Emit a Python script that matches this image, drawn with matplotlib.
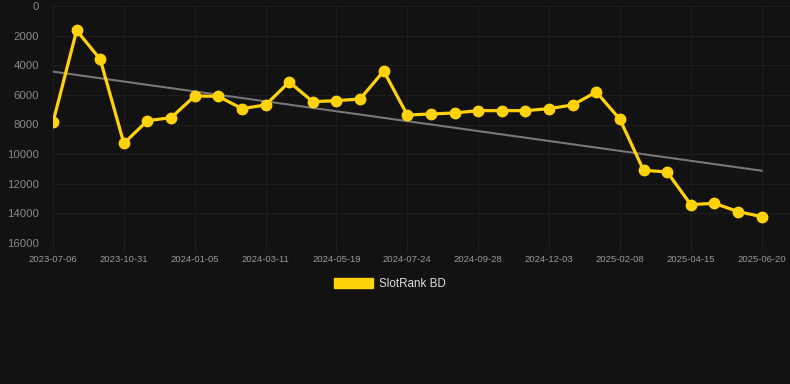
import numpy as np
import matplotlib
matplotlib.use('Agg')
import matplotlib.pyplot as plt
from matplotlib.patches import Patch

plt.rcParams['font.family'] = ['Liberation Sans', 'DejaVu Sans']

# data: rank per snapshot (lower is better, axis inverted)
ranks = [7850, 1650, 3600, 9270, 7740, 7540, 6075, 6100, 6930, 6680,
         5130, 6460, 6390, 6280, 4390, 7360, 7290, 7220, 7065, 7065,
         7065, 6930, 6680, 5805, 7650, 11090, 11205, 13410, 13320, 13880,
         14220]
tick_labels = ['2023-07-06', '2023-10-31', '2024-01-05', '2024-03-11', '2024-05-19',
               '2024-07-24', '2024-09-28', '2024-12-03', '2025-02-08', '2025-04-15',
               '2025-06-20']
trend_ends = [4430, 11120]
series_name = 'SlotRank BD'

bg = '#121212'
yellow = '#FFD20A'

fig = plt.figure(figsize=(7.9, 3.84), dpi=100, facecolor=bg)
ax = fig.add_axes([53/790, 1 - 243/384, 1 - 53/790, 237/384], facecolor=bg)

x = np.arange(len(ranks))
ax.plot([x[0], x[-1]], trend_ends, color='#777777', lw=1.5, zorder=2)
ax.plot(x, ranks, color=yellow, lw=2.3, marker='o', markersize=7.5, zorder=3)

ax.set_ylim(16000, 0)
ax.set_xlim(0, 31.2)
ax.set_yticks(np.arange(0, 16001, 2000))
ax.set_xticks(x[::3])
ax.set_xticklabels(tick_labels)

ax.grid(True, color='#1d1d1d', lw=0.8)
ax.axhline(16000, color='#272727', lw=0.8, zorder=1)
ax.set_axisbelow(True)
for s in ax.spines.values():
    s.set_visible(False)
ax.tick_params(axis='y', length=0, pad=10, labelsize=8.2, colors='#888888')
ax.tick_params(axis='x', length=5, width=0.8, color='#222222', pad=4,
               labelsize=6.8, labelcolor='#999999')

handle = Patch(facecolor=yellow, edgecolor=yellow)
fig.legend([handle], [series_name], loc='center', bbox_to_anchor=(390/790, 1 - 284/384),
           frameon=False, handlelength=3.3, handleheight=1.0, fontsize=8.4,
           labelcolor='#dddddd', handletextpad=0.5)

plt.savefig('out.png', facecolor=bg)
